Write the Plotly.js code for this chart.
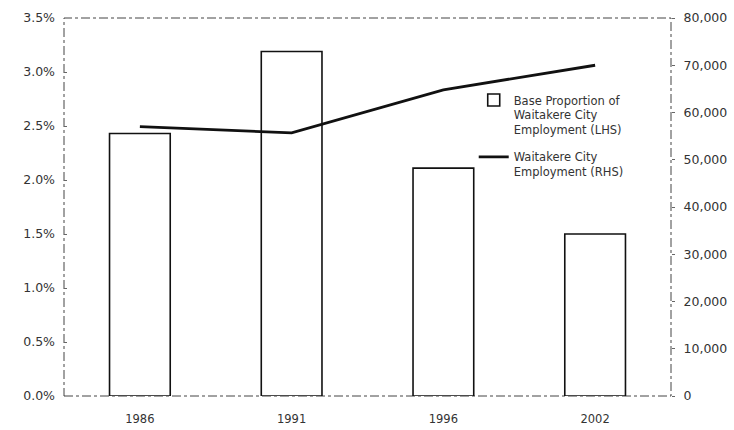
<!DOCTYPE html>
<html>
<head>
<meta charset="utf-8">
<script src="https://cdn.plot.ly/plotly-3.0.1.min.js"></script>
<style>
  body { margin: 0; background: #fff; }
  #chart { width: 734px; height: 430px; }
</style>
</head>
<body>
<div id="chart"></div>
<script>
// Values
const years = ['1986', '1991', '1996', '2002'];
const baseShare = [2.43, 3.19, 2.11, 1.50];          // % of Waitakere City employment (LHS)
const cityEmployment = [57000, 55700, 64800, 70000]; // Waitakere City employment (RHS)

window.onload = function () {
	const bars = {
		x: years,
		y: baseShare,
		type: 'bar',
		name: 'Base Proportion of<br>Waitakere City<br>Employment (LHS)',
		legendgroup: 'share',
		marker: { color: '#ffffff', line: { color: '#111', width: 1.6 } },
		yaxis: 'y'
	};

	const line = {
		x: years,
		y: cityEmployment,
		type: 'scatter',
		mode: 'lines',
		name: 'Waitakere City<br>Employment (RHS)',
		legendgroup: 'jobs',
		line: { color: '#111', width: 2.8 },
		yaxis: 'y2'
	};

	const face = 'DejaVu Sans, Verdana, sans-serif';

	Plotly.newPlot('chart', [bars, line], {
		width: 734,
		height: 430,
		margin: { l: 64, r: 63, t: 18, b: 34 },
		paper_bgcolor: '#fff',
		plot_bgcolor: '#fff',
		font: { family: face, size: 12, color: '#333' },
		bargap: 0.6,
		showlegend: true,
		legend: {
			x: 0.675, y: 0.82, xanchor: 'left', yanchor: 'top',
			bgcolor: 'rgba(0,0,0,0)',
			itemwidth: 30,
			valign: 'top',
			traceorder: 'grouped',
			tracegroupgap: 9,
			font: { family: face, size: 11.5, color: '#333' }
		},
		xaxis: {
			type: 'category',
			showgrid: false,
			zeroline: false,
			showline: false,
			ticks: '',
			ticklabelstandoff: 14,
			tickfont: { family: face, size: 11.5, color: '#333' }
		},
		yaxis: {
			range: [0, 3.5],
			dtick: 0.5,
			tickformat: '.1f',
			ticksuffix: '%',
			showgrid: false,
			zeroline: false,
			showline: false,
			ticks: 'inside',
			ticklen: 3,
			tickcolor: '#666',
			ticklabelstandoff: 8,
			tickfont: { family: face, size: 12.5, color: '#333' }
		},
		yaxis2: {
			overlaying: 'y',
			side: 'right',
			range: [0, 80000],
			dtick: 10000,
			tickformat: ',d',
			showgrid: false,
			zeroline: false,
			showline: false,
			ticks: 'outside',
			ticklen: 3,
			tickcolor: '#666',
			ticklabelstandoff: 6,
			tickfont: { family: face, size: 12.5, color: '#333' }
		},
		shapes: [{
			type: 'rect', xref: 'paper', yref: 'paper',
			x0: 0, x1: 1, y0: 0, y1: 1,
			line: { color: '#444', width: 1, dash: 'dashdot' },
			layer: 'below'
		}]
	}, { displayModeBar: false, staticPlot: true });
};
</script>
</body>
</html>
